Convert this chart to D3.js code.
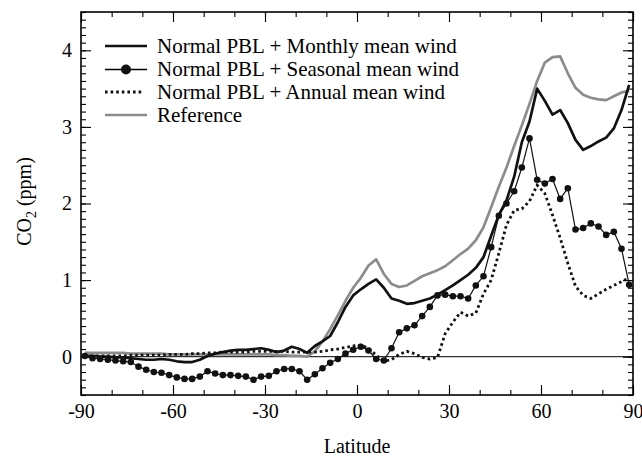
<!DOCTYPE html>
<html>
<head>
<meta charset="utf-8">
<script src="https://cdn.jsdelivr.net/npm/d3@7"></script>
<style>
  body { margin: 0; background: #fff; }
  svg { display: block; }
  svg text { font-family: "Liberation Serif", "Times New Roman", serif; }
</style>
</head>
<body>
<div id="chart"></div>
<script>
// latitude grid (2.5 degree cell centres)
const latitudes = [
  -88.75, -86.25, -83.75, -81.25, -78.75, -76.25, -73.75, -71.25, -68.75, -66.25,
  -63.75, -61.25, -58.75, -56.25, -53.75, -51.25, -48.75, -46.25, -43.75, -41.25,
  -38.75, -36.25, -33.75, -31.25, -28.75, -26.25, -23.75, -21.25, -18.75, -16.25,
  -13.75, -11.25, -8.75, -6.25, -3.75, -1.25, 1.25, 3.75, 6.25, 8.75,
  11.25, 13.75, 16.25, 18.75, 21.25, 23.75, 26.25, 28.75, 31.25, 33.75,
  36.25, 38.75, 41.25, 43.75, 46.25, 48.75, 51.25, 53.75, 56.25, 58.75,
  61.25, 63.75, 66.25, 68.75, 71.25, 73.75, 76.25, 78.75, 81.25, 83.75,
  86.25, 88.75
];

const monthly = [
  0.01, 0.01, 0.00, 0.00, -0.01, -0.01, -0.02, -0.03, -0.04, -0.04,
  -0.03, -0.04, -0.06, -0.07, -0.07, -0.04, 0.01, 0.04, 0.06, 0.08,
  0.09, 0.09, 0.10, 0.11, 0.09, 0.06, 0.08, 0.13, 0.10, 0.05,
  0.14, 0.20, 0.27, 0.45, 0.65, 0.80, 0.88, 0.95, 1.01, 0.90,
  0.76, 0.73, 0.69, 0.70, 0.73, 0.76, 0.81, 0.87, 0.93, 1.00,
  1.07, 1.16, 1.30, 1.58, 1.85, 2.04, 2.35, 2.80, 3.07, 3.50,
  3.34, 3.16, 3.22, 3.05, 2.83, 2.70, 2.75, 2.81, 2.86, 2.98,
  3.22, 3.55
];

const seasonal = [
  0.01, -0.02, -0.03, -0.04, -0.05, -0.06, -0.07, -0.13, -0.17, -0.20,
  -0.21, -0.24, -0.27, -0.29, -0.29, -0.26, -0.19, -0.22, -0.24, -0.24,
  -0.25, -0.26, -0.30, -0.26, -0.25, -0.19, -0.16, -0.16, -0.19, -0.30,
  -0.23, -0.15, -0.08, -0.03, 0.04, 0.09, 0.13, 0.08, -0.03, -0.05,
  0.11, 0.32, 0.37, 0.41, 0.53, 0.65, 0.80, 0.81, 0.79, 0.79,
  0.76, 0.93, 1.05, 1.43, 1.84, 2.00, 2.16, 2.47, 2.85, 2.31,
  2.26, 2.32, 2.06, 2.20, 1.66, 1.68, 1.74, 1.70, 1.59, 1.63,
  1.41, 0.94
];

const annual = [
  0.01, 0.01, 0.01, 0.01, 0.01, 0.01, 0.02, 0.02, 0.02, 0.02,
  0.02, 0.03, 0.03, 0.03, 0.04, 0.04, 0.05, 0.05, 0.06, 0.06,
  0.06, 0.06, 0.07, 0.07, 0.07, 0.07, 0.07, 0.06, 0.06, 0.06,
  0.06, 0.07, 0.09, 0.10, 0.12, 0.14, 0.15, 0.11, 0.02, -0.06,
  -0.04, 0.03, 0.07, 0.04, -0.01, -0.03, -0.01, 0.30, 0.45, 0.58,
  0.53, 0.57, 0.82, 1.00, 1.35, 1.72, 1.91, 1.93, 2.03, 2.24,
  2.13, 1.85, 1.55, 1.22, 0.92, 0.80, 0.76, 0.82, 0.88, 0.93,
  0.98, 1.03
];

const reference = [
  0.05, 0.05, 0.05, 0.05, 0.05, 0.05, 0.04, 0.04, 0.04, 0.04,
  0.04, 0.03, 0.03, 0.03, 0.03, 0.03, 0.03, 0.03, 0.03, 0.03,
  0.03, 0.03, 0.03, 0.03, 0.03, 0.02, 0.02, 0.01, 0.01, 0.00,
  0.07, 0.20, 0.36, 0.54, 0.73, 0.90, 1.03, 1.19, 1.27, 1.08,
  0.95, 0.91, 0.93, 0.99, 1.05, 1.09, 1.13, 1.18, 1.26, 1.34,
  1.41, 1.52, 1.69, 1.95, 2.22, 2.47, 2.75, 3.02, 3.30, 3.60,
  3.84, 3.91, 3.92, 3.70, 3.51, 3.42, 3.38, 3.36, 3.35, 3.40,
  3.45, 3.47
];

const xTickLabels = [-90, -60, -30, 0, 30, 60, 90];
const xMinorTicks = [-90, -80, -70, -60, -50, -40, -30, -20, -10, 0, 10, 20, 30, 40, 50, 60, 70, 80, 90];
const yTickLabels = [0, 1, 2, 3, 4];

const legendLabels = [
  'Normal PBL + Monthly mean wind',
  'Normal PBL + Seasonal mean wind',
  'Normal PBL + Annual mean wind',
  'Reference'
];

const width = 642;
const height = 460;
const margin = { top: 12, right: 9, bottom: 65, left: 81 };

const svg = d3.select('#chart')
  .append('svg')
  .attr('width', width)
  .attr('height', height);

const x = d3.scaleLinear()
  .domain([-90, 90])
  .range([margin.left, width - margin.right]);

const y = d3.scaleLinear()
  .domain([-0.5, 4.5])
  .range([height - margin.bottom, margin.top]);

const yMinorTicks = d3.range(-5, 46).map(d => d / 10);

// --- axes (ticks point inward on all four sides) ---
function styleAxis(g) {
  g.attr('font-family', null).attr('font-size', null);
  g.select('.domain').remove();
  g.selectAll('.tick line').attr('stroke', '#000').attr('stroke-width', 1.1);
  g.selectAll('.tick text').attr('fill', '#000').style('font-size', '20px');
}

const plotBottom = height - margin.bottom;
const plotTop = margin.top;
const plotLeft = margin.left;
const plotRight = width - margin.right;

const plain = d => String(d);  // hyphen minus like the original

svg.append('g')
  .attr('transform', `translate(0,${plotBottom})`)
  .call(d3.axisBottom(x).tickValues(xMinorTicks).tickSize(-5).tickFormat(''))
  .call(styleAxis);
svg.append('g')
  .attr('transform', `translate(0,${plotBottom})`)
  .call(d3.axisBottom(x).tickValues(xTickLabels).tickSize(-10).tickPadding(9).tickFormat(plain))
  .call(styleAxis);

svg.append('g')
  .attr('transform', `translate(0,${plotTop})`)
  .call(d3.axisTop(x).tickValues(xMinorTicks).tickSize(-5).tickFormat(''))
  .call(styleAxis);
svg.append('g')
  .attr('transform', `translate(0,${plotTop})`)
  .call(d3.axisTop(x).tickValues(xTickLabels).tickSize(-10).tickFormat(''))
  .call(styleAxis);

svg.append('g')
  .attr('transform', `translate(${plotLeft},0)`)
  .call(d3.axisLeft(y).tickValues(yMinorTicks).tickSize(-5).tickFormat(''))
  .call(styleAxis);
svg.append('g')
  .attr('transform', `translate(${plotLeft},0)`)
  .call(d3.axisLeft(y).tickValues(yTickLabels).tickSize(-10).tickPadding(9).tickFormat(plain))
  .call(styleAxis);

svg.append('g')
  .attr('transform', `translate(${plotRight},0)`)
  .call(d3.axisRight(y).tickValues(yMinorTicks).tickSize(-5).tickFormat(''))
  .call(styleAxis);
svg.append('g')
  .attr('transform', `translate(${plotRight},0)`)
  .call(d3.axisRight(y).tickValues(yTickLabels).tickSize(-10).tickFormat(''))
  .call(styleAxis);

// frame
svg.append('rect')
  .attr('x', plotLeft)
  .attr('y', plotTop)
  .attr('width', plotRight - plotLeft)
  .attr('height', plotBottom - plotTop)
  .attr('fill', 'none')
  .attr('stroke', '#000')
  .attr('stroke-width', 1.6);

// zero line
svg.append('line')
  .attr('x1', plotLeft).attr('x2', plotRight)
  .attr('y1', y(0)).attr('y2', y(0))
  .attr('stroke', '#000')
  .attr('stroke-width', 1);

// --- series ---
const line = d3.line()
  .x(d => x(d[0]))
  .y(d => y(d[1]));

const pairs = vals => latitudes.map((lat, i) => [lat, vals[i]]);

svg.append('path')
  .datum(pairs(reference))
  .attr('d', line)
  .attr('fill', 'none')
  .attr('stroke', '#8c8c8c')
  .attr('stroke-width', 2.7)
  .attr('stroke-linejoin', 'round');

svg.append('path')
  .datum(pairs(annual))
  .attr('d', line)
  .attr('fill', 'none')
  .attr('stroke', '#111')
  .attr('stroke-width', 2.8)
  .attr('stroke-dasharray', '2.6,3');

svg.append('path')
  .datum(pairs(monthly))
  .attr('d', line)
  .attr('fill', 'none')
  .attr('stroke', '#111')
  .attr('stroke-width', 2.7)
  .attr('stroke-linejoin', 'round');

svg.append('path')
  .datum(pairs(seasonal))
  .attr('d', line)
  .attr('fill', 'none')
  .attr('stroke', '#111')
  .attr('stroke-width', 1.2);

svg.append('g')
  .selectAll('circle')
  .data(pairs(seasonal))
  .join('circle')
  .attr('cx', d => x(d[0]))
  .attr('cy', d => y(d[1]))
  .attr('r', 3.3)
  .attr('fill', '#111');

// --- axis titles ---
svg.append('text')
  .attr('x', (plotLeft + plotRight) / 2)
  .attr('y', 453)
  .attr('text-anchor', 'middle')
  .style('font-size', '20px')
  .text('Latitude');

const yTitle = svg.append('text')
  .attr('transform', `translate(31,${(plotTop + plotBottom) / 2 - 2}) rotate(-90)`)
  .attr('text-anchor', 'middle')
  .style('font-size', '20px');
yTitle.append('tspan').text('CO');
yTitle.append('tspan').attr('dy', 5).style('font-size', '14px').text('2');
yTitle.append('tspan').attr('dy', -5).text(' (ppm)');

// --- legend ---
const legend = svg.append('g');
const rowY = [46, 69, 92, 115];

legend.append('line')
  .attr('x1', 105).attr('x2', 147).attr('y1', rowY[0]).attr('y2', rowY[0])
  .attr('stroke', '#111').attr('stroke-width', 2.7);

legend.append('line')
  .attr('x1', 105).attr('x2', 147).attr('y1', rowY[1] + 0.5).attr('y2', rowY[1] + 0.5)
  .attr('stroke', '#000').attr('stroke-width', 1.5);
legend.append('circle')
  .attr('cx', 126).attr('cy', rowY[1] + 0.5).attr('r', 5)
  .attr('fill', '#111');

legend.append('line')
  .attr('x1', 105).attr('x2', 144).attr('y1', rowY[2]).attr('y2', rowY[2])
  .attr('stroke', '#111').attr('stroke-width', 2.8)
  .attr('stroke-dasharray', '2.6,3');

legend.append('line')
  .attr('x1', 105).attr('x2', 147).attr('y1', rowY[3]).attr('y2', rowY[3])
  .attr('stroke', '#8c8c8c').attr('stroke-width', 2.7);

legend.selectAll('text')
  .data(legendLabels)
  .join('text')
  .attr('x', 157)
  .attr('y', (d, i) => rowY[i] + 7)
  .style('font-size', '21px')
  .text(d => d);
</script>
</body>
</html>
